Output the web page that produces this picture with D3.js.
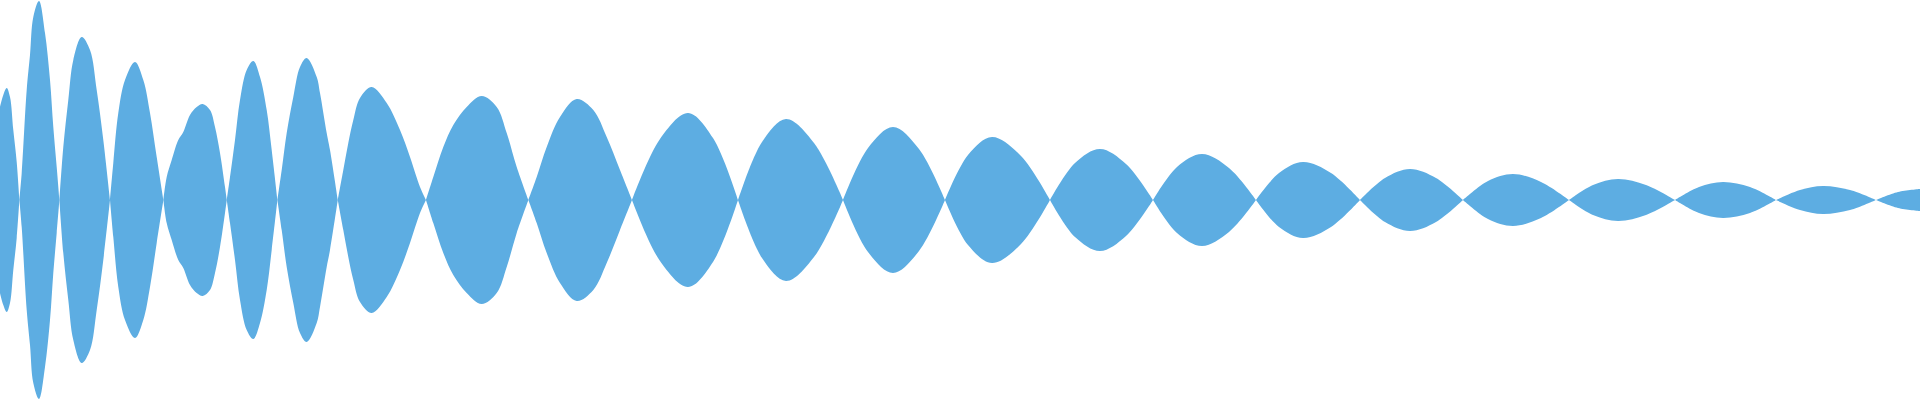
<!DOCTYPE html>
<html>
<head>
<meta charset="utf-8">
<script src="https://cdn.jsdelivr.net/npm/d3@7"></script>
<style>
  html, body { margin: 0; padding: 0; background: #fff; }
  svg { display: block; }
</style>
</head>
<body>
<div id="chart"></div>
<script>
// envelope of the waveform: sample position and half-height (0 = zero crossing)
const times = [
  0, 3.3, 6.7, 10, 13.3, 16.7, 19.4,
  21.7, 26.7, 30, 33.3, 39, 45, 50, 53.3, 56.7, 59.4,
  63.3, 68.3, 73.3, 81.7, 90, 96.7, 103.3, 110,
  113.3, 118.3, 125, 135, 143.3, 150, 156.7, 163.4,
  166.7, 171.7, 178.3, 183.3, 190, 196.7, 202.7, 210, 215, 220, 225, 226.8,
  230, 235, 240, 246.7, 253.3, 260, 266.7, 271.7, 277.4,
  281.7, 286.7, 293.3, 300, 306.7, 316.7, 320, 326.7, 330, 337.8,
  343.3, 348.3, 353.3, 360, 371.7, 386.7, 400, 410, 420, 426,
  433.3, 443.3, 453.3, 466.7, 481.7, 496.7, 506.7, 516.7, 528.4,
  536.7, 546.7, 560, 576.7, 593.3, 606.7, 620, 632,
  660, 688, 713, 738,
  762, 786, 814, 843,
  868, 893, 919, 945,
  968, 992, 1021, 1050,
  1075, 1100, 1126, 1153,
  1177, 1202, 1229, 1256,
  1279, 1303, 1331, 1360,
  1385, 1410, 1436, 1463,
  1488, 1513, 1541, 1569,
  1593, 1618, 1646, 1675,
  1699, 1723, 1750, 1776,
  1800, 1823, 1850, 1876,
  1898, 1920
];
const amps = [
  93, 105, 112, 103, 70, 38, 0,
  27, 110, 145, 183, 199, 167, 120, 73, 33, 0,
  53, 100, 140, 163, 150, 110, 60, 0,
  37, 87, 120, 138, 120, 87, 43, 0,
  23, 40, 60, 68, 85, 93, 96, 90, 73, 47, 13, 0,
  23, 60, 100, 130, 139, 123, 90, 50, 0,
  30, 67, 103, 133, 142, 123, 107, 67, 50, 0,
  30, 57, 80, 102, 113, 97, 70, 43, 13, 0,
  23, 53, 75, 93, 104, 93, 67, 33, 0,
  23, 53, 83, 101, 90, 63, 30, 0,
  61, 87, 62, 0,
  58, 81, 57, 0,
  52, 73, 51, 0,
  45, 63, 44, 0,
  37, 51, 36, 0,
  33, 46, 32, 0,
  27, 38, 27, 0,
  22, 31, 22, 0,
  19, 26, 18, 0,
  15, 21, 15, 0,
  13, 18, 13, 0,
  10, 14, 10, 0,
  8, 11
];

const width = 1920, height = 400;

const svg = d3.select("#chart")
  .append("svg")
  .attr("width", width)
  .attr("height", height);

const x = d3.scaleLinear().domain([0, 1920]).range([0, width]);
const y = d3.scaleLinear().domain([-200, 200]).range([height, 0]);

// split into lobes at each zero crossing so the crossings stay pointed
const points = times.map((t, i) => ({ t: t, a: amps[i] }));
const lobes = [];
let cur = [];
points.forEach(p => {
  cur.push(p);
  if (p.a === 0 && cur.length > 1) {
    lobes.push(cur);
    cur = [p];
  }
});
if (cur.length > 1) lobes.push(cur);

const area = d3.area()
  .x(d => x(d.t))
  .y0(d => y(-d.a))
  .y1(d => y(d.a))
  .curve(d3.curveCatmullRom.alpha(0.5));

svg.selectAll("path.lobe")
  .data(lobes)
  .enter()
  .append("path")
  .attr("class", "lobe")
  .attr("d", area)
  .attr("fill", "#5DADE2");
</script>
</body>
</html>
